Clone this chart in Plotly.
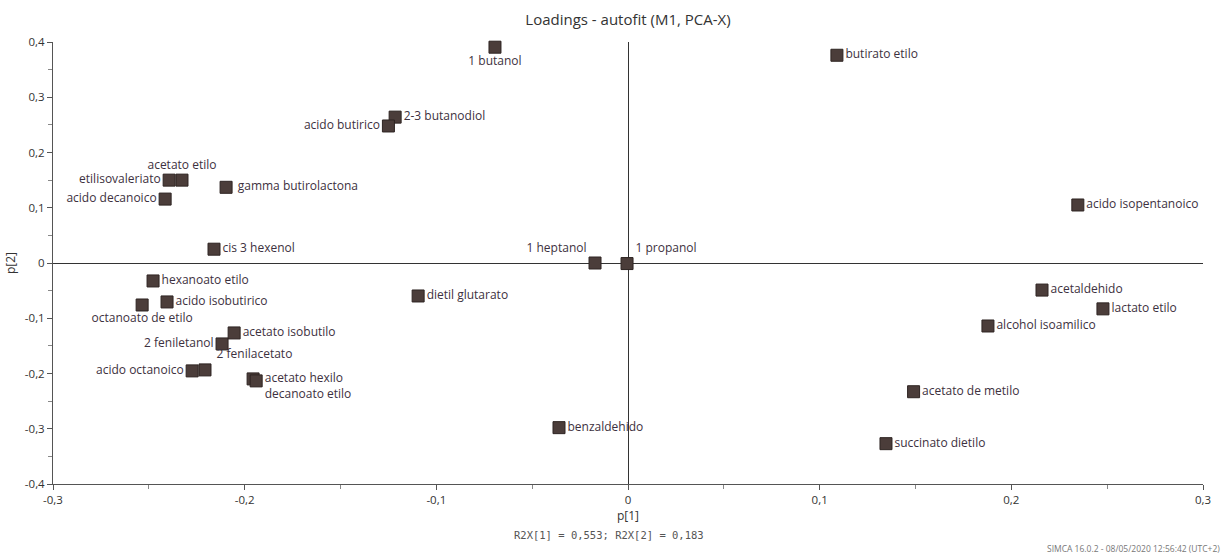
import plotly.graph_objects as go

# ---------------- data ----------------
variables = [
    "1 butanol", "butirato etilo", "2-3 butanodiol", "acido butirico",
    "acetato etilo", "etilisovaleriato", "acido decanoico", "gamma butirolactona",
    "cis 3 hexenol", "hexanoato etilo", "acido isobutirico", "octanoato de etilo",
    "acetato isobutilo", "2 feniletanol", "2 fenilacetato", "acido octanoico",
    "acetato hexilo", "decanoato etilo", "dietil glutarato", "benzaldehido",
    "1 heptanol", "1 propanol", "acido isopentanoico", "acetaldehido",
    "lactato etilo", "alcohol isoamilico", "acetato de metilo", "succinato dietilo",
]
p1 = [
    -0.0694, 0.109, -0.1215, -0.125,
    -0.2327, -0.2394, -0.2415, -0.2097,
    -0.216, -0.2478, -0.2405, -0.2535,
    -0.2055, -0.2118, -0.2207, -0.2274,
    -0.1956, -0.194, -0.1095, -0.036,
    -0.0172, -0.0005, 0.2347, 0.216,
    0.2478, 0.1878, 0.149, 0.1346,
]
p2 = [
    0.3906, 0.376, 0.264, 0.248,
    0.150, 0.150, 0.1157, 0.137,
    0.025, -0.0325, -0.0705, -0.076,
    -0.1266, -0.1465, -0.1935, -0.1953,
    -0.2098, -0.2134, -0.0597, -0.298,
    0.0, -0.001, 0.105, -0.049,
    -0.083, -0.114, -0.233, -0.327,
]
x_tick_vals = [-0.3, -0.2, -0.1, 0, 0.1, 0.2, 0.3]
x_tick_text = ["-0,3", "-0,2", "-0,1", "0", "0,1", "0,2", "0,3"]
y_tick_vals = [-0.4, -0.3, -0.2, -0.1, 0, 0.1, 0.2, 0.3, 0.4]
y_tick_text = ["-0,4", "-0,3", "-0,2", "-0,1", "0", "0,1", "0,2", "0,3", "0,4"]
title_text = "Loadings - autofit (M1, PCA-X)"
r2x_text = "R2X[1] = 0,553; R2X[2] = 0,183"
footer_text = "SIMCA 16.0.2 - 08/05/2020 12:56:42 (UTC+2)"

# ---------------- label placement (style) ----------------
label_pos = {
    "1 butanol": "bottom center", "acetato etilo": "top center",
    "etilisovaleriato": "middle left", "acido decanoico": "middle left",
    "acido butirico": "middle left", "octanoato de etilo": "bottom center",
    "2 feniletanol": "middle left", "2 fenilacetato": "top right",
    "acido octanoico": "middle left", "decanoato etilo": "bottom right",
    "1 heptanol": "top left", "1 propanol": "top right",
}
padded = {"gamma butirolactona", "2 fenilacetato", "acetato hexilo"}
positions = [label_pos.get(v, "middle right") for v in variables]
labels = [(" " + v) if v in padded else v for v in variables]

FONT = "Open Sans, Noto Sans, sans-serif"

fig = go.Figure()
fig.add_trace(go.Scatter(
    x=p1, y=p2, text=labels, mode="markers+text",
    textposition=positions,
    textfont=dict(family=FONT, size=12, color="#3d3140"),
    marker=dict(symbol="square", size=12, color="#4b3d3a",
                line=dict(color="#2e2422", width=1)),
    cliponaxis=False, hoverinfo="text", showlegend=False,
))

axis_common = dict(
    showgrid=False, showline=True, linecolor="#555555", linewidth=1,
    ticks="outside", ticklen=5, tickcolor="#555555",
    tickfont=dict(family=FONT, size=11.5, color="#333333"),
    zeroline=True, zerolinecolor="#333333", zerolinewidth=1,
    minor=dict(ticks="outside", ticklen=4, tickcolor="#888888", dtick=0.05),
    automargin=False,
)

fig.update_layout(
    width=1222, height=555,
    margin=dict(l=53, r=19, t=42, b=71),
    paper_bgcolor="white", plot_bgcolor="white",
    separators=", ",
    title=dict(text=title_text, x=(53 + 575) / 1222, xanchor="center",
               y=1 - 20 / 555, yanchor="middle",
               font=dict(family=FONT, size=15, color="#333333")),
    xaxis=dict(range=[-0.3, 0.3], tickvals=x_tick_vals, ticktext=x_tick_text,
               title=dict(text="p[1]", standoff=2,
                          font=dict(family=FONT, size=12, color="#333333")),
               **axis_common),
    yaxis=dict(range=[-0.4, 0.4], tickvals=y_tick_vals, ticktext=y_tick_text,
               title=dict(text="p[2]", standoff=6,
                          font=dict(family=FONT, size=12, color="#333333")),
               **axis_common),
    annotations=[
        dict(text=r2x_text, xref="paper", yref="paper",
             x=(609 - 53) / 1150, y=-(535 - 484) / 442,
             xanchor="center", yanchor="middle", showarrow=False,
             font=dict(family="DejaVu Sans Mono, monospace", size=10.5, color="#555555")),
        dict(text=footer_text, xref="paper", yref="paper",
             x=(1222 - 53) / 1150, y=-(548 - 484) / 442,
             xanchor="right", yanchor="middle", showarrow=False,
             font=dict(family=FONT, size=8.5, color="#777777")),
    ],
)

fig.write_html("out.html")
